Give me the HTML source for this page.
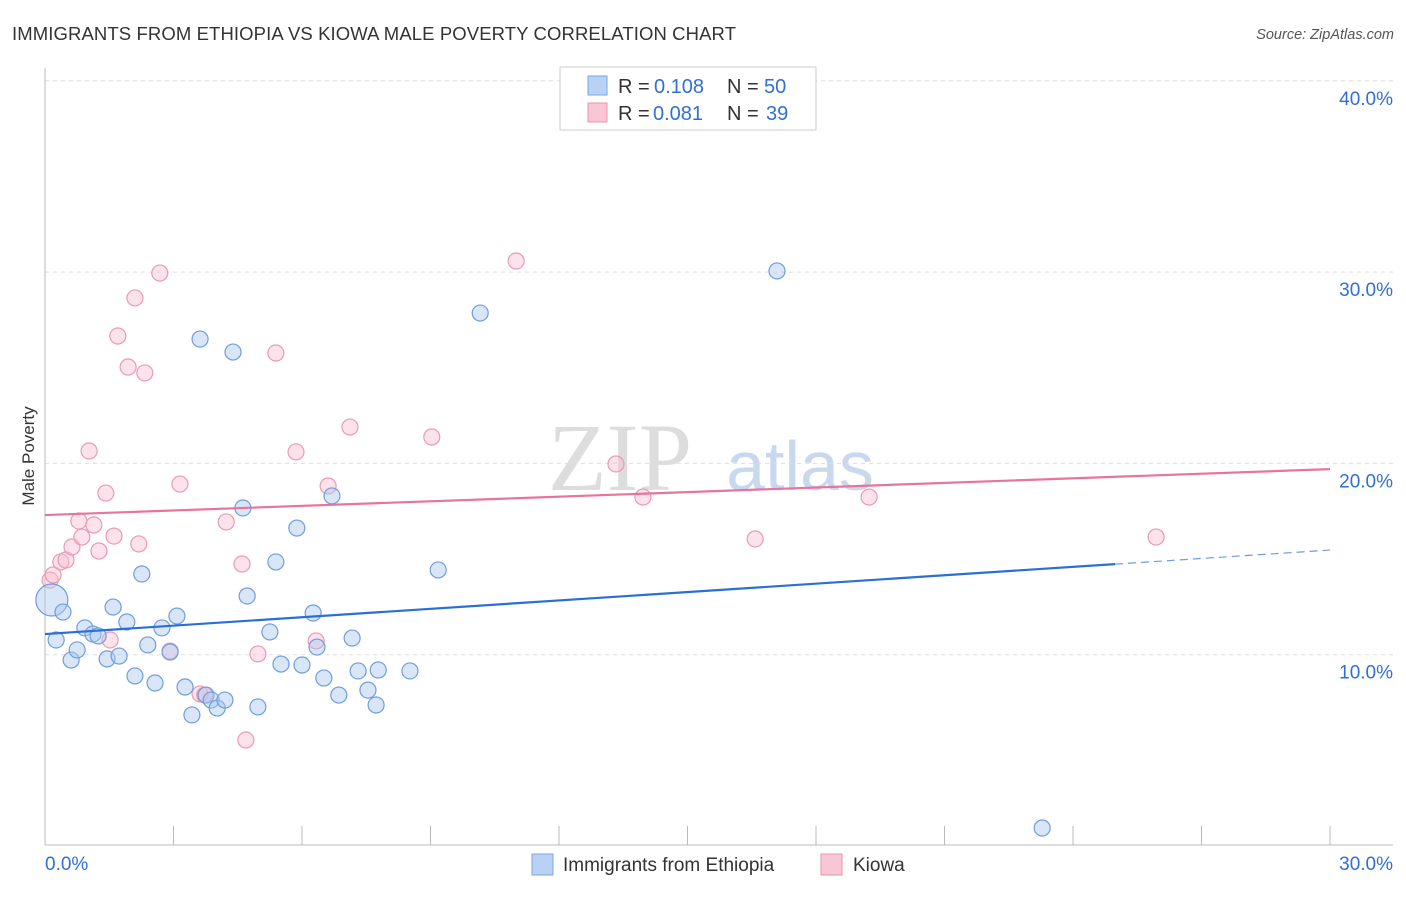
<!DOCTYPE html>
<html><head><meta charset="utf-8"><style>
body{margin:0;background:#fff;font-family:"Liberation Sans",sans-serif;}
</style></head><body>
<svg width="1406" height="892" xmlns="http://www.w3.org/2000/svg" id="chart">
<text x="12" y="40" font-size="18.5" fill="#333" textLength="724">IMMIGRANTS FROM ETHIOPIA VS KIOWA MALE POVERTY CORRELATION CHART</text>
<text x="1394" y="39" font-size="14.5" fill="#555" font-style="italic" text-anchor="end">Source: ZipAtlas.com</text>
<text x="620" y="490" font-size="96" fill="#ddd" font-family="Liberation Serif" text-anchor="middle">ZIP</text>
<text x="800" y="490" font-size="70" fill="#c8d8ee" text-anchor="middle">atlas</text>
<text x="34" y="456" font-size="17" fill="#333" text-anchor="middle" transform="rotate(-90 34 456)">Male Poverty</text>
<g id="grid"></g><g id="axes"></g><g id="marks"></g>
<g>
<rect x="560" y="67" width="256" height="63" fill="#fff" stroke="#ccc"/>
<rect x="588" y="76" width="19" height="19" fill="#b8d2f4" stroke="#7aa6e0"/>
<rect x="588" y="103" width="19" height="19" fill="#f9c6d6" stroke="#e893b0"/>
<g font-size="20" fill="#333">
<text x="618" y="93">R =</text><text x="654" y="93" fill="#2f6fd6">0.108</text>
<text x="727" y="93">N =</text><text x="764" y="93" fill="#2f6fd6">50</text></g>
<g font-size="20" fill="#333">
<text x="618" y="120">R =</text><text x="653" y="120" fill="#2f6fd6">0.081</text>
<text x="727" y="120">N =</text><text x="766" y="120" fill="#2f6fd6">39</text></g>
</g>
<g>
<rect x="532" y="854" width="21" height="21" fill="#b8d2f4" stroke="#7aa6e0"/>
<text x="563" y="871" font-size="19" fill="#333">Immigrants from Ethiopia</text>
<rect x="821" y="854" width="21" height="21" fill="#f9c6d6" stroke="#e893b0"/>
<text x="853" y="871" font-size="19" fill="#333">Kiowa</text>
</g>
</svg>
<script>
const blueX=[0.16,0.42,0.26,0.61,0.75,0.93,1.12,1.24,1.45,1.59,1.73,1.91,2.1,2.26,2.4,2.57,2.73,2.92,3.08,3.27,3.43,3.62,3.76,3.88,4.02,4.2,4.39,4.62,4.72,4.97,5.25,5.39,5.51,5.88,6.0,6.26,6.35,6.51,6.7,6.86,7.17,7.31,7.54,7.73,7.78,8.52,9.18,10.16,17.09,23.28];
const blueY=[12.86,12.23,10.77,9.72,10.25,11.4,11.08,10.98,9.78,12.49,9.93,11.71,8.89,14.22,10.51,8.52,11.4,10.14,12.02,8.31,6.85,26.5,7.89,7.63,7.21,7.63,25.82,17.67,13.07,7.27,11.19,14.85,9.51,16.62,9.46,12.18,10.4,8.78,18.3,7.89,10.87,9.15,8.15,7.37,9.2,9.15,14.43,27.86,30.06,0.94];
const pinkX=[0.12,0.19,0.37,0.49,0.63,0.79,0.86,1.03,1.14,1.26,1.42,1.52,1.61,1.7,1.94,2.1,2.19,2.33,2.68,2.92,3.15,3.62,3.73,4.23,4.6,4.69,4.97,5.39,5.86,6.33,6.61,7.12,9.03,11.0,13.33,13.96,16.58,19.24,25.94];
const pinkY=[13.9,14.17,14.85,14.95,15.63,16.99,16.15,20.65,16.78,15.42,18.45,10.77,16.2,26.66,25.04,28.65,15.79,24.73,29.95,10.19,18.92,7.95,7.89,16.94,14.74,5.54,10.04,25.77,20.6,10.72,18.82,21.9,21.38,30.58,19.97,18.24,16.05,18.24,16.15];
const yTicks=[10,20,30,40];
const yTickLabels=["10.0%","20.0%","30.0%","40.0%"];
const xTicks=[0,3,6,9,12,15,18,21,24,27,30];
const blueTrend=[11.08,15.47], blueSolidEnd=24.98;
const pinkTrend=[17.3,19.7];
const NS="http://www.w3.org/2000/svg";
const sx=v=>45+v/30*1285, sy=v=>846-v*19.13;
function mk(t,a,p){const e=document.createElementNS(NS,t);for(const k in a)e.setAttribute(k,a[k]);document.getElementById(p).appendChild(e);return e;}
yTicks.forEach((t,i)=>{
 const l=mk('line',{x1:45,x2:1393,y1:sy(t),y2:sy(t),stroke:'#ddd','stroke-dasharray':'4,4'},'grid');
 
 
 const tx=mk('text',{x:1393,y:sy(t)+24,'font-size':19,fill:'#2f6fd6','text-anchor':'end'},'axes');
 tx.textContent=yTickLabels[i];
 
 
});
const ax=mk('line',{x1:45,x2:45,y1:68,y2:845,stroke:'#bbb'},'axes');


const bx=mk('line',{x1:45,x2:1393,y1:845,y2:845,stroke:'#bbb'},'axes');


xTicks.forEach(t=>{const l=mk('line',{x1:sx(t),x2:sx(t),y1:826,y2:845,stroke:'#bbb'},'axes');
 
 });
let t0=mk('text',{x:45,y:870,'font-size':19,fill:'#2f6fd6'},'axes');t0.textContent='0.0%';


let t1=mk('text',{x:1393,y:870,'font-size':19,fill:'#2f6fd6','text-anchor':'end'},'axes');t1.textContent='30.0%';


pinkX.forEach((x,i)=>{const c=mk('circle',{cx:sx(x),cy:sy(pinkY[i]),r:8,fill:'rgba(248,190,208,0.45)',stroke:'#e99ab5','stroke-width':1.2},'marks');
 
 });
blueX.forEach((x,i)=>{const c=mk('circle',{cx:sx(x),cy:sy(blueY[i]),r:i==0?16:8,fill:'rgba(170,200,240,0.45)',stroke:'#6f9ddc','stroke-width':1.2},'marks');
 
 });
const by=x=>blueTrend[0]+(blueTrend[1]-blueTrend[0])*x/30;
let b1=mk('line',{x1:sx(0),y1:sy(blueTrend[0]),x2:sx(blueSolidEnd),y2:sy(by(blueSolidEnd)),stroke:'#2a6fd6','stroke-width':2.2},'marks');


let b2=mk('line',{x1:sx(blueSolidEnd),y1:sy(by(blueSolidEnd)),x2:sx(30),y2:sy(blueTrend[1]),stroke:'#6f9ddc','stroke-width':1.2,'stroke-dasharray':'8,5'},'marks');


let p1=mk('line',{x1:sx(0),y1:sy(pinkTrend[0]),x2:sx(30),y2:sy(pinkTrend[1]),stroke:'#e8739c','stroke-width':2.2},'marks');


</script>
</body></html>
